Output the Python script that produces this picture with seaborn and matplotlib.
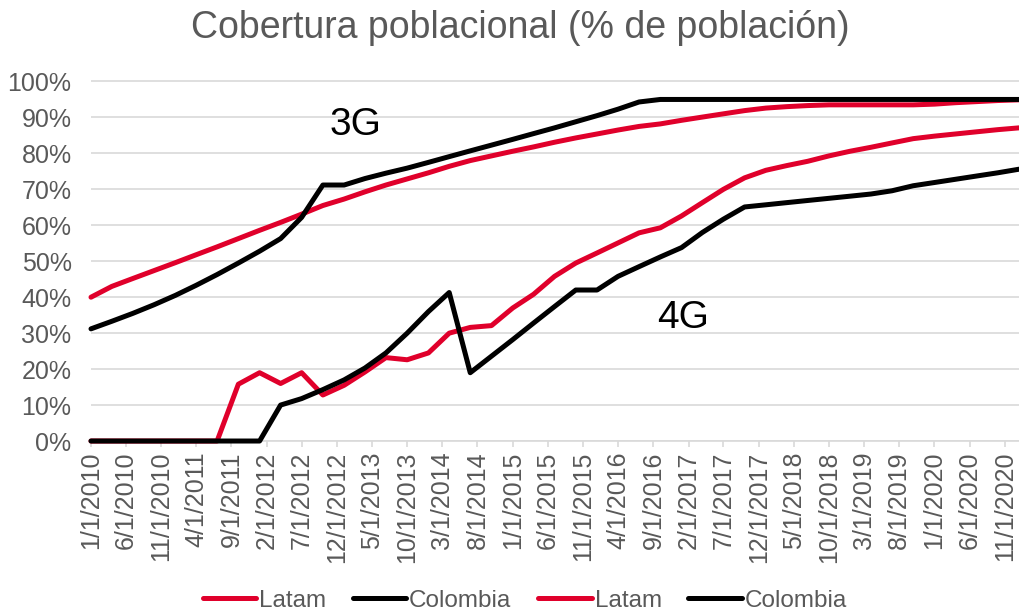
import matplotlib
matplotlib.use("Agg")
import pandas as pd
import seaborn as sns
from matplotlib import pyplot as plt
from matplotlib.ticker import PercentFormatter, MultipleLocator

# quarterly observations, 1/1/2010 .. 1/1/2021
quarters = pd.date_range("2010-01-01", periods=45, freq="QS")

latam_3g = [
    40.0, 43.0, 45.2, 47.4, 49.6, 51.8, 54.0, 56.3, 58.6, 60.8,
    63.1, 65.5, 67.3, 69.3, 71.2, 72.9, 74.6, 76.4, 78.0, 79.3,
    80.6, 81.8, 83.1, 84.3, 85.4, 86.5, 87.5, 88.2, 89.2, 90.1,
    91.0, 91.9, 92.6, 93.0, 93.3, 93.5, 93.5, 93.5, 93.5, 93.5,
    93.7, 94.1, 94.4, 94.7, 94.9,
]
colombia_3g = [
    31.2, 33.3, 35.5, 37.9, 40.5, 43.3, 46.3, 49.5, 52.8, 56.3,
    62.2, 71.2, 71.2, 73.0, 74.5, 75.9, 77.5, 79.1, 80.7, 82.3,
    83.9, 85.5, 87.1, 88.8, 90.5, 92.3, 94.3, 95.0, 95.0, 95.0,
    95.0, 95.0, 95.0, 95.0, 95.0, 95.0, 95.0, 95.0, 95.0, 95.0,
    95.0, 95.0, 95.0, 95.0, 95.0,
]
latam_4g = [
    0.0, 0.0, 0.0, 0.0, 0.0, 0.0, 0.0, 15.8, 19.0, 16.0,
    19.0, 12.8, 15.5, 19.2, 23.2, 22.6, 24.5, 30.0, 31.6, 32.1,
    37.0, 40.8, 45.8, 49.5, 52.3, 55.1, 57.9, 59.3, 62.6, 66.3,
    70.0, 73.2, 75.3, 76.6, 77.8, 79.3, 80.6, 81.7, 82.9, 84.1,
    84.8, 85.4, 86.0, 86.6, 87.1,
]
colombia_4g = [
    0.0, 0.0, 0.0, 0.0, 0.0, 0.0, 0.0, 0.0, 0.0, 10.0,
    11.8, 14.3, 17.0, 20.3, 24.5, 30.0, 36.0, 41.3, 19.0, 23.6,
    28.2, 32.8, 37.4, 42.0, 42.0, 45.8, 48.5, 51.2, 53.8, 58.0,
    61.7, 65.1, 65.7, 66.3, 66.9, 67.5, 68.1, 68.7, 69.6, 71.0,
    71.9, 72.8, 73.7, 74.6, 75.6,
]

tick_dates = pd.date_range("2010-01-01", "2020-11-01", freq="5MS")
tick_labels = [f"{d.month}/{d.day}/{d.year}" for d in tick_dates]

RED = "#E0002B"
BLACK = "#000000"
GRAY_TEXT = "#595959"
GRID = "#D9D9D9"


def main() -> None:
    sns.set_theme(style="white")
    plt.rcParams["font.family"] = ["Liberation Sans", "DejaVu Sans"]

    fig = plt.figure(figsize=(10.19, 6.11), dpi=100)
    ax = fig.add_axes([0.0893, 0.2782, 0.9107, 0.5908])

    series = [
        ("Latam", latam_3g, RED),
        ("Colombia", colombia_3g, BLACK),
        ("Latam", latam_4g, RED),
        ("Colombia", colombia_4g, BLACK),
    ]
    for order, (label, values, color) in enumerate(series):
        sns.lineplot(x=quarters, y=values, color=color, linewidth=3.6,
                     label=label, ax=ax, legend=False, zorder=3 + order)

    ax.set_xlim(pd.Timestamp("2010-01-01"), pd.Timestamp("2021-01-01"))
    ax.set_ylim(0, 100.4)
    for line in ax.get_lines():
        line.set_clip_on(False)

    ax.yaxis.set_major_locator(MultipleLocator(10))
    ax.yaxis.set_major_formatter(PercentFormatter(decimals=0))
    ax.set_xticks(tick_dates)
    ax.set_xticklabels(tick_labels, rotation=90)

    ax.grid(axis="y", color=GRID, linewidth=1.2)
    ax.set_axisbelow(True)
    for side in ["top", "right", "left"]:
        ax.spines[side].set_visible(False)
    ax.spines["bottom"].set_color(GRID)
    ax.spines["bottom"].set_linewidth(1.2)

    ax.tick_params(axis="y", length=0, pad=14, labelsize=18, labelcolor=GRAY_TEXT)
    ax.tick_params(axis="x", bottom=True, length=4.5, width=1.2, color=GRID,
                   pad=3, labelsize=18, labelcolor=GRAY_TEXT)
    ax.set_xlabel("")
    ax.set_ylabel("")

    ax.text(0.2845, 0.875, "3G", transform=ax.transAxes, fontsize=28,
            ha="center", va="center", color="black")
    ax.text(0.638, 0.341, "4G", transform=ax.transAxes, fontsize=28,
            ha="center", va="center", color="black")

    fig.text(520 / 1019, 1 - 28 / 611, "Cobertura poblacional (% de población)",
             fontsize=27, color=GRAY_TEXT, ha="center", va="center")

    handles, labels = ax.get_legend_handles_labels()
    leg = fig.legend(handles, labels, loc="center", bbox_to_anchor=(0.515, 0.017),
                     ncol=4, frameon=False, fontsize=17.5, handlelength=2.2,
                     handletextpad=0.12, columnspacing=1.1, labelcolor=GRAY_TEXT)
    for line in leg.get_lines():
        line.set_solid_capstyle("round")

    fig.savefig("out.png", dpi=100)
    plt.close(fig)


if __name__ == "__main__":
    main()
